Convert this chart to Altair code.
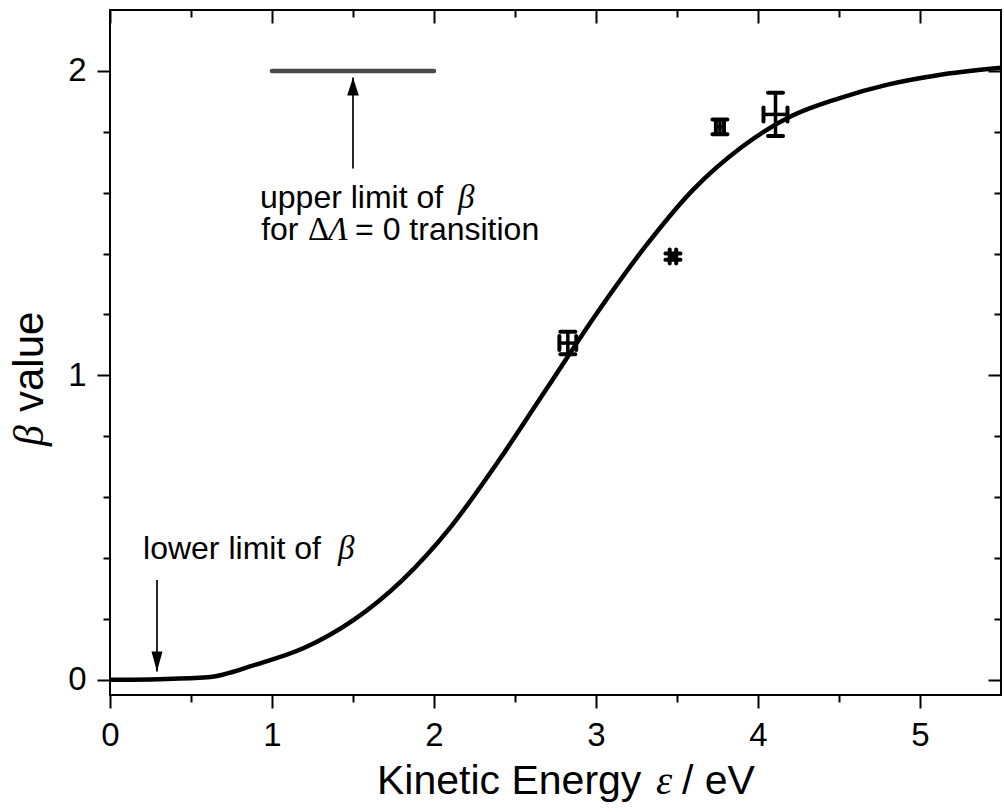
import altair as alt
import pandas as pd

# ---------------- data ----------------
curve_energy = [0, 0.3, 0.6, 0.9, 1.2, 1.5, 1.8, 2.1, 2.4, 2.7, 3.0, 3.3,
                3.6, 3.9, 4.2, 4.5, 4.8, 5.1, 5.5]
curve_beta = [0, 0.002, 0.008, 0.05, 0.105, 0.195, 0.325, 0.50, 0.72, 0.96, 1.20, 1.42,
              1.61, 1.75, 1.85, 1.91, 1.955, 1.985, 2.01]

point_energy = [2.826, 3.475, 3.765, 4.108]
point_beta = [1.106, 1.390, 1.816, 1.857]
point_xerr = [0.052, 0.020, 0.025, 0.074]
point_yerr = [0.037, 0.010, 0.024, 0.071]

limit_from = [1.0]
limit_to = [2.0]
limit_beta = [2.0]

arrow_energy = [1.5, 0.29]
arrow_from = [1.679, 0.328]
arrow_to = [1.978, 0.027]
arrow_dir = ["up", "down"]

x_major = [0, 1, 2, 3, 4, 5]
x_minor = [0.5, 1.5, 2.5, 3.5, 4.5]
y_major = [0, 1, 2]
y_minor = [0.2, 0.4, 0.6, 0.8, 1.2, 1.4, 1.6, 1.8]

ann_sans_text = ["upper limit of", "for", "= 0 transition", "lower limit of"]
ann_sans_e = [0.926, 0.933, 1.513, 0.204]
ann_sans_b = [1.548, 1.443, 1.443, 0.397]
ann_ital_text = ["β", "Λ", "β"]
ann_ital_e = [2.148, 1.346, 1.407]
ann_ital_b = [1.548, 1.443, 0.397]
ann_up_text = ["Δ"]
ann_up_e = [1.222]
ann_up_b = [1.443]

SANS = "Liberation Sans"
SERIF = "Liberation Serif"
W, H = 891, 685

# ---------------- frames ----------------
curve_df = pd.DataFrame({"e": curve_energy, "b": curve_beta})
pts = pd.DataFrame({"e": point_energy, "b": point_beta,
                    "xerr": point_xerr, "yerr": point_yerr})
pts["xlo"] = pts["e"] - pts["xerr"]
pts["xhi"] = pts["e"] + pts["xerr"]
pts["ylo"] = pts["b"] - pts["yerr"]
pts["yhi"] = pts["b"] + pts["yerr"]

limit_df = pd.DataFrame({"x1": limit_from, "x2": limit_to, "b": limit_beta})
arrow_df = pd.DataFrame({"e": arrow_energy, "b0": arrow_from, "b1": arrow_to, "dir": arrow_dir})
ann_sans = pd.DataFrame({"t": ann_sans_text, "e": ann_sans_e, "b": ann_sans_b})
ann_ital = pd.DataFrame({"t": ann_ital_text, "e": ann_ital_e, "b": ann_ital_b})
ann_up = pd.DataFrame({"t": ann_up_text, "e": ann_up_e, "b": ann_up_b})

xt_sans = pd.DataFrame({"t": ["Kinetic Energy", "/ eV"], "px": [267, 572], "py": [784, 784]})
xt_ital = pd.DataFrame({"t": ["ε"], "px": [546], "py": [784]})
yt_sans = pd.DataFrame({"t": ["value"], "px": [-67], "py": [402]})
yt_ital = pd.DataFrame({"t": ["β"], "px": [-67], "py": [436]})

xs = alt.Scale(domain=[0, 5.5], nice=False, zero=False)
ys = alt.Scale(domain=[-0.05, 2.2], nice=False, zero=False)


def ax(orient, values, size, labels=False, offset=None, pad=12):
    kw = dict(orient=orient, values=values, tickSize=size, tickWidth=2,
              tickColor="black", domain=False, grid=False, labels=labels,
              ticks=True, title=None)
    if offset is not None:
        kw["offset"] = offset
    if labels:
        kw.update(labelFont=SANS, labelFontSize=33, labelColor="black",
                  labelPadding=pad, format="d", labelFlush=False,
                  labelOverlap=False)
    return alt.Axis(**kw)


curve = alt.Chart(curve_df).mark_line(
    color="black", strokeWidth=4.5, interpolate="monotone"
).encode(
    x=alt.X("e:Q", scale=xs, axis=ax("bottom", x_major, 13, labels=True, pad=11)),
    y=alt.Y("b:Q", scale=ys, axis=ax("left", y_major, 13, labels=True, pad=11)),
)

vbars = alt.Chart(pts).mark_rule(color="black", strokeWidth=3.5).encode(
    x=alt.X("e:Q", scale=xs, axis=ax("bottom", x_minor, 7)),
    y=alt.Y("ylo:Q", scale=ys, axis=ax("left", y_minor, 7)),
    y2="yhi:Q",
)

hbars = alt.Chart(pts).mark_rule(color="black", strokeWidth=3.5).encode(
    x=alt.X("xlo:Q", scale=xs, axis=ax("top", x_major, 13, offset=-13)),
    x2="xhi:Q",
    y=alt.Y("b:Q", scale=ys, axis=ax("right", y_major, 13, offset=-13)),
)

vcaps = alt.Chart(pts).transform_fold(["ylo", "yhi"], as_=["k", "v"]).mark_tick(
    orient="horizontal", size=19, thickness=4, color="black", opacity=1,
    cornerRadius=2
).encode(
    x=alt.X("e:Q", scale=xs, axis=ax("top", x_minor, 7, offset=-7)),
    y=alt.Y("v:Q", scale=ys, axis=ax("right", y_minor, 7, offset=-7)),
)

hcaps = alt.Chart(pts).transform_fold(["xlo", "xhi"], as_=["k", "v"]).mark_tick(
    orient="vertical", size=18, thickness=4, color="black", opacity=1,
    cornerRadius=2
).encode(
    x=alt.X("v:Q", scale=xs, axis=None),
    y=alt.Y("b:Q", scale=ys, axis=None),
)

limit = alt.Chart(limit_df).mark_rule(
    color="#4a4a4a", strokeWidth=4.5, strokeCap="round"
).encode(
    x=alt.X("x1:Q", scale=xs, axis=None), x2="x2:Q",
    y=alt.Y("b:Q", scale=ys, axis=None),
)

shafts = alt.Chart(arrow_df).mark_rule(color="black", strokeWidth=1.7).encode(
    x=alt.X("e:Q", scale=xs, axis=None),
    y=alt.Y("b0:Q", scale=ys, axis=None), y2="b1:Q",
)

head_up = alt.Chart(arrow_df).transform_filter("datum.dir == 'up'").mark_point(
    shape="M0,-1L0.65,1L-0.65,1Z", size=324, filled=True, color="black",
    opacity=1, strokeWidth=0, yOffset=9
).encode(
    x=alt.X("e:Q", scale=xs, axis=None),
    y=alt.Y("b1:Q", scale=ys, axis=None),
)

head_down = alt.Chart(arrow_df).transform_filter("datum.dir == 'down'").mark_point(
    shape="M0,1L0.55,-1L-0.55,-1Z", size=400, filled=True, color="black",
    opacity=1, strokeWidth=0, yOffset=-10
).encode(
    x=alt.X("e:Q", scale=xs, axis=None),
    y=alt.Y("b1:Q", scale=ys, axis=None),
)

t_sans = alt.Chart(ann_sans).mark_text(
    font=SANS, fontSize=32, align="left", baseline="alphabetic", color="black"
).encode(
    x=alt.X("e:Q", scale=xs, axis=None), y=alt.Y("b:Q", scale=ys, axis=None), text="t:N"
)
t_ital = alt.Chart(ann_ital).mark_text(
    font=SERIF, fontSize=33, fontStyle="italic", align="left", baseline="alphabetic",
    color="black"
).encode(
    x=alt.X("e:Q", scale=xs, axis=None), y=alt.Y("b:Q", scale=ys, axis=None), text="t:N"
)
t_up = alt.Chart(ann_up).mark_text(
    font=SERIF, fontSize=33, align="left", baseline="alphabetic", color="black"
).encode(
    x=alt.X("e:Q", scale=xs, axis=None), y=alt.Y("b:Q", scale=ys, axis=None), text="t:N"
)

x_title_sans = alt.Chart(xt_sans).mark_text(
    font=SANS, fontSize=41, align="left", baseline="alphabetic", color="black"
).encode(
    x=alt.X("px:Q", scale=None, axis=None), y=alt.Y("py:Q", scale=None, axis=None), text="t:N"
)
x_title_ital = alt.Chart(xt_ital).mark_text(
    font=SERIF, fontSize=41, fontStyle="italic", align="left", baseline="alphabetic",
    color="black"
).encode(
    x=alt.X("px:Q", scale=None, axis=None), y=alt.Y("py:Q", scale=None, axis=None), text="t:N"
)
y_title_sans = alt.Chart(yt_sans).mark_text(
    font=SANS, fontSize=42, align="left", baseline="alphabetic", angle=270, color="black"
).encode(
    x=alt.X("px:Q", scale=None, axis=None), y=alt.Y("py:Q", scale=None, axis=None), text="t:N"
)
y_title_ital = alt.Chart(yt_ital).mark_text(
    font=SERIF, fontSize=42, fontStyle="italic", align="left", baseline="alphabetic",
    angle=270, color="black"
).encode(
    x=alt.X("px:Q", scale=None, axis=None), y=alt.Y("py:Q", scale=None, axis=None), text="t:N"
)

chart = alt.layer(
    curve, vbars, hbars, vcaps, hcaps, limit, shafts, head_up, head_down,
    t_sans, t_ital, t_up, x_title_sans, x_title_ital, y_title_sans, y_title_ital
).resolve_axis(
    x="independent", y="independent"
).properties(
    width=W, height=H,
    autosize=alt.AutoSizeParams(type="none"),
    padding={"left": 110, "top": 10, "right": 3, "bottom": 117},
    background="white",
).configure_view(
    stroke="black", strokeWidth=2
)

chart.save("out.html", embed_options={"renderer": "svg", "actions": False})
